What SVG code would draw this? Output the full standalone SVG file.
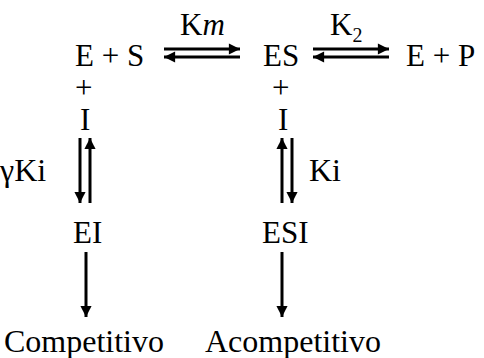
<svg xmlns="http://www.w3.org/2000/svg" width="484" height="358" viewBox="0 0 484 358">
<style>
text{font-family:"Liberation Serif","Times New Roman",serif;font-size:31px;fill:#000}
.big{font-size:32px}
.ln{stroke:#000;stroke-width:3;fill:none}
</style>
<defs>
<marker id="ah" viewBox="0 0 10 10" refX="10" refY="5" markerWidth="4.8" markerHeight="3.7" markerUnits="strokeWidth" orient="auto"><path d="M0,0 L10,5 L0,10 Z" fill="#000"/></marker>
</defs>
<rect width="484" height="358" fill="#fff"/>
<g id="ES_sub"><text x="75" y="66">E + S</text></g>
<g id="ES_complex"><text x="263" y="66">ES</text></g>
<g id="EP"><text x="406" y="66">E + P</text></g>
<g id="plus1"><text x="75" y="98">+</text></g>
<g id="I1"><text x="80" y="130">I</text></g>
<g id="plus2"><text x="272" y="98">+</text></g>
<g id="I2"><text x="278" y="130">I</text></g>
<g id="EI"><text x="73" y="243">EI</text></g>
<g id="ESI"><text x="262" y="243">ESI</text></g>
<g id="comp"><text class="big" x="4" y="352">Competitivo</text></g>
<g id="acomp"><text class="big" x="205" y="352">Acompetitivo</text></g>
<g id="labels">
<text x="180" y="35">K<tspan font-style="italic">m</tspan></text>
<text x="330" y="35">K<tspan font-size="20" dy="7">2</tspan></text>
<text class="big" x="0" y="181">γKi</text>
<text class="big" x="309" y="181">Ki</text>
</g>
<g id="connectors">
<line class="ln" x1="164" y1="49" x2="240" y2="49" marker-end="url(#ah)"/>
<line class="ln" x1="240" y1="57" x2="164" y2="57" marker-end="url(#ah)"/>
<line class="ln" x1="313" y1="49" x2="389" y2="49" marker-end="url(#ah)"/>
<line class="ln" x1="389" y1="57" x2="313" y2="57" marker-end="url(#ah)"/>
<line class="ln" x1="80" y1="138" x2="80" y2="203" marker-end="url(#ah)"/>
<line class="ln" x1="90" y1="203" x2="90" y2="138" marker-end="url(#ah)"/>
<line class="ln" x1="282" y1="203" x2="282" y2="138" marker-end="url(#ah)"/>
<line class="ln" x1="292" y1="138" x2="292" y2="203" marker-end="url(#ah)"/>
<line class="ln" x1="86" y1="252" x2="86" y2="317" marker-end="url(#ah)"/>
<line class="ln" x1="282" y1="252" x2="282" y2="317" marker-end="url(#ah)"/>
</g>
</svg>
